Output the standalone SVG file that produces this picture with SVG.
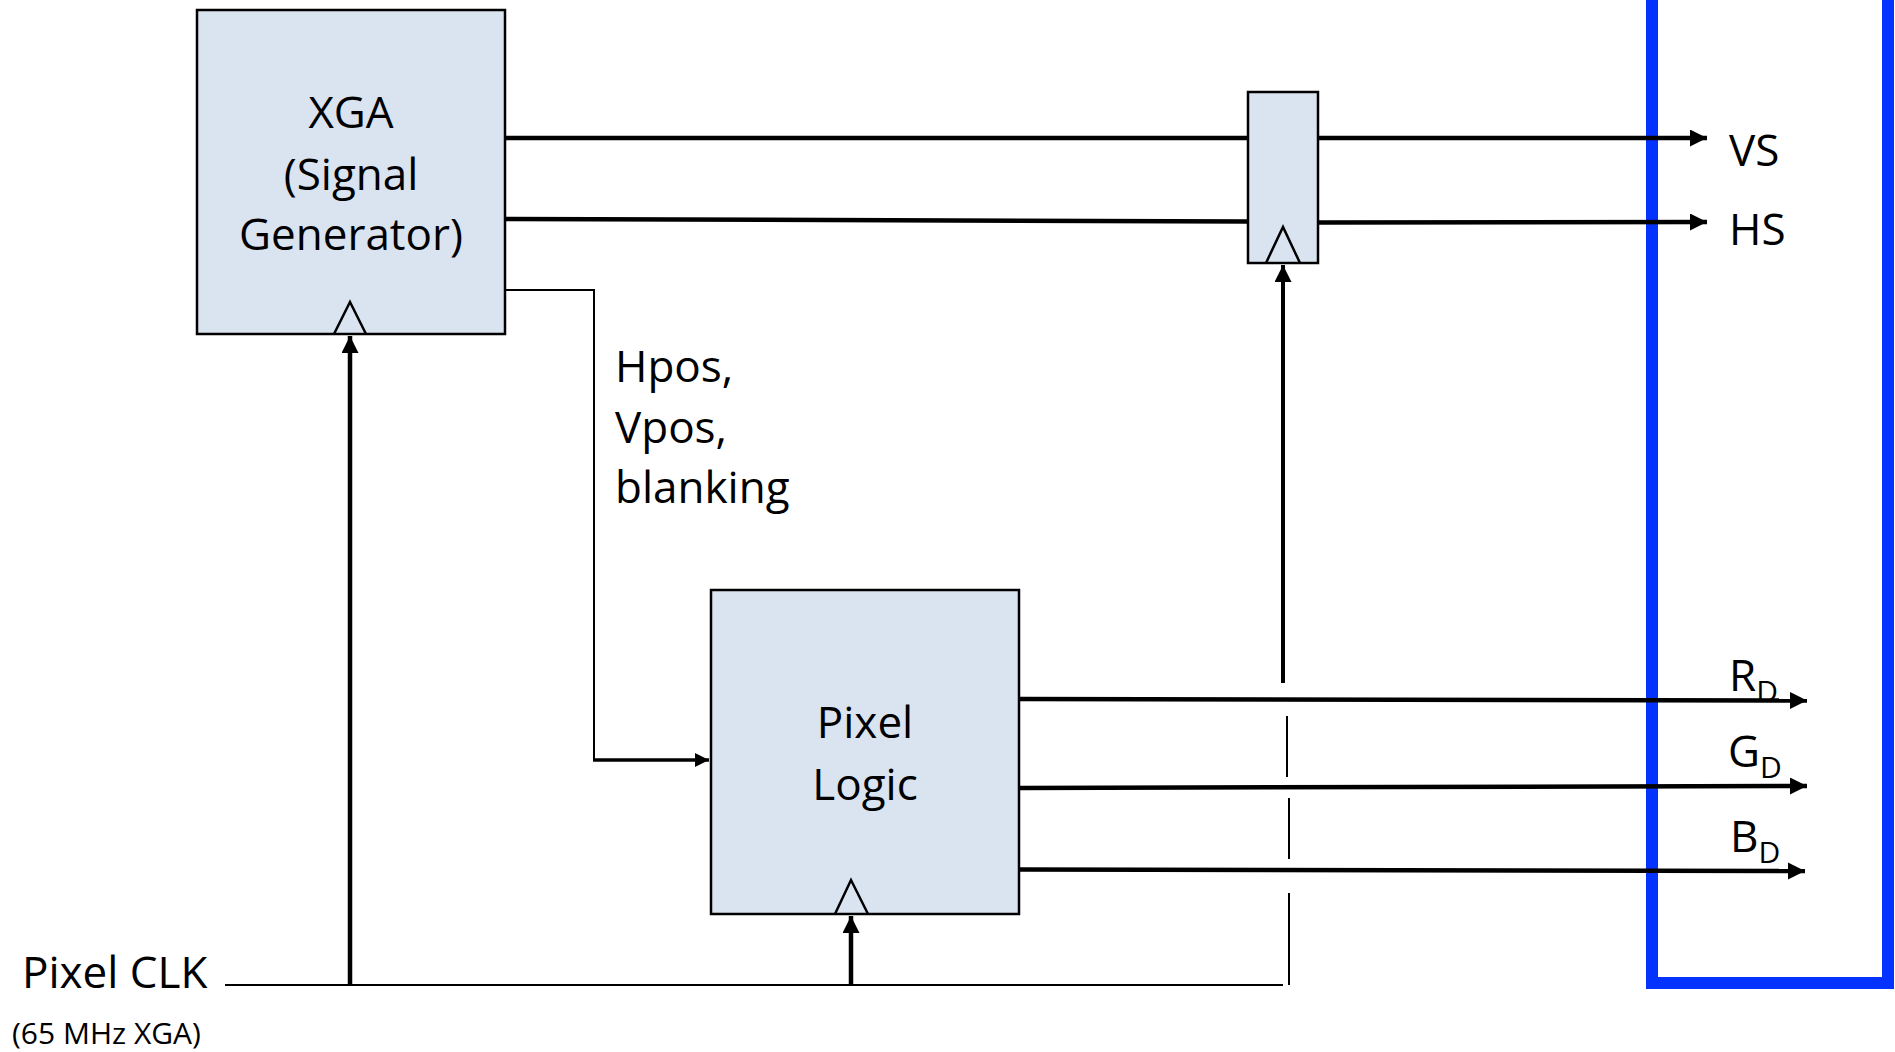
<svg xmlns="http://www.w3.org/2000/svg" width="1895" height="1052" viewBox="0 0 1895 1052">
<style>
.box{fill:#DAE3F0;stroke:#000;stroke-width:2.5}
.clk{fill:none;stroke:#000;stroke-width:2.5;stroke-linejoin:miter}
.lbl{font-family:"Open Sans","Liberation Sans",sans-serif;font-size:44px;fill:#000}
.sm{font-family:"Open Sans","Liberation Sans",sans-serif;font-size:30px;fill:#000}
.sub{font-size:30px}
.w{fill:none;stroke:#000;stroke-width:4.5}
.t{fill:none;stroke:#000;stroke-width:2}
</style>
<defs>
<marker id="ah" markerUnits="userSpaceOnUse" markerWidth="18" markerHeight="18" refX="17" refY="8.5" orient="auto">
<path d="M0,0 L17,8.5 L0,17 Z" fill="#000"/>
</marker>
<marker id="ahs" markerUnits="userSpaceOnUse" markerWidth="15" markerHeight="15" refX="14" refY="7" orient="auto">
<path d="M0,0 L14,7 L0,14 Z" fill="#000"/>
</marker>
</defs>
<rect x="1652" y="-20" width="236" height="1003" fill="none" stroke="#0433FF" stroke-width="12"/>
<g id="connectors">
<line class="w" x1="506" y1="138" x2="1707" y2="138" marker-end="url(#ah)"/>
<polyline class="w" points="506,219 1248,221.5"/>
<polyline class="w" points="1318,222.5 1707,222" marker-end="url(#ah)"/>
<polyline class="t" points="506,290 594,290 594,760"/>
<line x1="593" y1="760" x2="709" y2="760" stroke="#000" stroke-width="3.5" marker-end="url(#ahs)"/>
<line class="t" x1="225" y1="985" x2="1283" y2="985"/>
<line class="w" x1="350" y1="985" x2="350" y2="336" marker-end="url(#ah)"/>
<line class="w" x1="851" y1="985" x2="851" y2="916" marker-end="url(#ah)"/>
<line stroke="#000" stroke-width="4" x1="1283" y1="683" x2="1283" y2="265" marker-end="url(#ah)"/>
<line class="t" x1="1287" y1="716" x2="1287" y2="777"/>
<line class="t" x1="1289" y1="798" x2="1289" y2="859"/>
<line class="t" x1="1289" y1="893" x2="1289" y2="985"/>
<polyline class="w" points="1020,699 1807,700.5" marker-end="url(#ah)"/>
<polyline class="w" points="1020,788 1807,786" marker-end="url(#ah)"/>
<polyline class="w" points="1020,869.5 1805,871" marker-end="url(#ah)"/>
</g>
<g id="xga">
<rect class="box" x="197" y="10" width="308" height="324"/>
<polyline class="clk" points="334,334 350,302 366,334"/>
<text class="lbl" x="351" y="128" text-anchor="middle">XGA</text>
<text class="lbl" x="351" y="190" text-anchor="middle">(Signal</text>
<text class="lbl" x="351" y="250" text-anchor="middle">Generator)</text>
</g>
<g id="register">
<rect class="box" x="1248" y="92" width="70" height="171"/>
<polyline class="clk" points="1266,263 1283,227 1300,263"/>
</g>
<g id="pixel-logic">
<rect class="box" x="711" y="590" width="308" height="324"/>
<polyline class="clk" points="835,914 851,880 868,914"/>
<text class="lbl" x="865" y="738" text-anchor="middle">Pixel</text>
<text class="lbl" x="865" y="800" text-anchor="middle">Logic</text>
</g>
<g id="labels">
<text class="lbl" x="615" y="382">Hpos,</text>
<text class="lbl" x="615" y="443">Vpos,</text>
<text class="lbl" x="615" y="503">blanking</text>
<text class="lbl" x="22" y="988">Pixel CLK</text>
<text class="sm" x="12" y="1044">(65 MHz XGA)</text>
<text class="lbl" x="1729" y="166">VS</text>
<text class="lbl" x="1729" y="245">HS</text>
<text class="lbl" x="1729" y="691">R<tspan class="sub" dy="11">D</tspan></text>
<text class="lbl" x="1728" y="767">G<tspan class="sub" dy="11">D</tspan></text>
<text class="lbl" x="1730" y="852">B<tspan class="sub" dy="11">D</tspan></text>
</g>
</svg>
